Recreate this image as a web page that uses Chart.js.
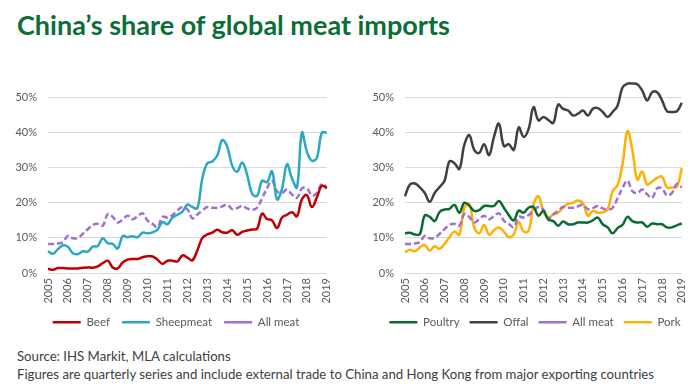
<!DOCTYPE html>
<html>
<head>
<meta charset="utf-8">
<script src="https://cdn.jsdelivr.net/npm/chart.js"></script>
<style>
  body { margin:0; background:#fff; width:700px; height:390px; overflow:hidden; position:relative; font-family: Lato, sans-serif; }
  #title { position:absolute; left:17px; top:8px; font-size:27px; font-weight:700; color:#0b6e37; white-space:nowrap; }
  .box { position:absolute; top:80px; height:258px; }
  #leftBox { left:0; width:345px; }
  #rightBox { left:350px; width:350px; }
  .note { position:absolute; left:17px; font-size:13.2px; color:#404040; white-space:nowrap; }
</style>
</head>
<body>
<div id="title">China’s share of global meat imports</div>
<div class="box" id="leftBox"><canvas id="left"></canvas></div>
<div class="box" id="rightBox"><canvas id="right"></canvas></div>
<div class="note" style="top:348px">Source: IHS Markit, MLA calculations</div>
<div class="note" style="top:366px">Figures are quarterly series and include external trade to China and Hong Kong from major exporting countries</div>
<script>
// quarterly series, Q1 2005 .. Q1 2019, % share
var years = ["2005","2006","2007","2008","2009","2010","2011","2012","2013","2014","2015","2016","2017","2018","2019"]
var quarters = []
for (let y = 0; y < years.length; y++) {
    for (let q = 1; q <= 4; q++) {
        if (y == years.length - 1 && q > 1) break
        quarters.push(years[y] + " Q" + q)
    }
}

var beef = [1.2,0.9,1.4,1.4,1.3,1.3,1.3,1.5,1.6,1.5,
    1.9,2.8,3.5,1.6,1.3,3.0,3.8,4.0,4.0,4.5,
    4.8,4.7,3.8,2.6,3.5,3.5,3.3,5.0,4.4,3.6,
    6.5,10.0,11.0,11.5,12.3,11.6,11.5,12.2,10.9,11.7,
    12.1,12.4,12.6,16.9,15.4,15.0,12.8,15.8,16.6,17.3,
    16.2,21.0,22.2,18.8,21.5,24.9,24.2]

var sheepmeat = [6.2,5.5,6.8,7.9,7.5,5.6,5.4,6.2,6.1,7.5,
    7.7,9.9,8.5,8.3,7.0,10.5,10.2,10.5,10.2,11.5,
    11.3,11.6,12.4,14.5,13.9,15.8,16.6,17.5,19.5,18.8,
    18.5,27.0,31.3,31.8,33.5,37.9,36.0,30.6,28.9,31.5,
    28.0,22.6,22.0,26.3,25.9,29.0,21.0,24.0,31.0,27.0,
    24.4,40.0,34.6,32.0,32.8,40.0,40.0]

var allMeat = [8.3,8.3,8.4,8.8,10.6,9.9,10.0,11.2,12.5,13.7,
    14.0,13.5,16.8,16.0,14.4,15.3,16.3,15.3,16.2,17.0,
    14.9,14.0,13.1,16.0,15.8,16.5,17.8,18.8,18.1,15.6,
    16.7,17.8,18.8,18.6,18.6,19.0,19.5,18.2,18.5,19.1,
    18.4,18.0,18.6,21.3,24.2,26.3,23.3,22.8,23.8,22.4,
    21.4,24.1,24.1,22.1,22.8,25.4,24.4]

var poultry = [11.3,11.5,11.0,11.1,16.4,16.0,14.8,17.4,18.1,18.3,
    19.4,17.2,20.0,19.2,17.7,17.9,19.1,19.1,19.1,20.5,
    18.6,16.5,15.0,17.8,17.2,18.6,18.8,16.3,17.7,15.2,
    14.8,13.5,14.7,13.9,13.9,14.4,14.4,14.4,15.0,15.8,
    13.9,13.0,11.3,12.8,13.7,16.0,14.8,14.4,14.4,13.2,
    14.1,13.9,13.9,13.0,13.0,13.6,14.1]

var offal = [21.9,25.2,25.5,24.4,22.8,20.3,22.8,24.5,26.3,31.8,
    31.3,29.7,36.5,39.3,35.1,34.2,36.7,33.6,38.8,42.6,
    36.2,36.7,35.1,41.5,38.8,41.0,47.3,43.5,44.5,43.6,
    42.8,48.0,46.8,46.3,44.9,45.4,46.3,44.9,46.8,47.0,
    45.9,44.5,45.9,47.7,52.9,54.0,54.0,53.8,52.0,49.2,
    51.5,51.5,49.2,46.1,45.9,46.1,48.5]

var pork = [5.9,6.6,6.2,7.3,8.0,6.4,7.6,6.9,8.3,10.2,
    11.8,10.9,18.6,19.7,13.0,11.3,13.7,10.9,12.2,13.0,
    11.8,10.2,11.0,14.5,11.8,12.0,19.5,21.9,17.5,15.8,
    16.7,17.2,18.8,19.7,20.0,20.7,19.9,16.3,17.7,17.2,
    17.3,18.1,23.3,25.0,31.0,40.4,35.0,26.6,28.9,25.2,
    26.1,27.1,27.5,24.4,24.4,24.6,29.9]

var textColor = '#595959'

// empurra a legenda um pouco para a direita
var moveLegend = {
    id: 'moveLegend',
    afterLayout: function (chart, args, opts) {
        chart.legend.left += opts.dx
        chart.legend.right += opts.dx
    }
}

function serie(label, data, color, dashed) {
    return {
        label: label,
        data: data,
        borderColor: color,
        backgroundColor: color,
        borderWidth: 2.5,
        borderDash: dashed ? [6, 3] : [],
        pointRadius: 0,
        tension: 0.4,
        clip: false
    }
}

function opcoes(axisWidth, padRight, legendPad, dx) {
    return {
        responsive: true,
        maintainAspectRatio: false,
        animation: false,
        layout: { padding: { top: 15, right: padRight, bottom: 0 } },
        scales: {
            x: {
                afterFit: function (s) { s.height = 43.5 - legendPad },
                grid: { display: false, drawTicks: false },
                border: { display: false },
                ticks: {
                    autoSkip: false, maxRotation: 90, minRotation: 90, padding: 5,
                    color: textColor, font: { family: 'Lato', size: 11 },
                    callback: function (v, i) { return i % 4 == 0 ? years[i / 4] : null }
                }
            },
            y: {
                min: 0, max: 50,
                afterFit: function (s) { s.width = axisWidth },
                grid: { color: '#d9d9d9', drawTicks: false },
                border: { display: false },
                ticks: {
                    stepSize: 10, padding: 11,
                    color: textColor, font: { family: 'Lato', size: 11 },
                    callback: function (v) { return v + '%' }
                }
            }
        },
        plugins: {
            legend: {
                position: 'bottom',
                labels: {
                    usePointStyle: true, pointStyle: 'line', pointStyleWidth: 28,
                    color: textColor, font: { family: 'Lato', size: 11.5 }, padding: legendPad
                }
            },
            moveLegend: { dx: dx },
            tooltip: { enabled: false }
        }
    }
}

new Chart(document.getElementById('left'), {
    type: 'line',
    data: {
        labels: quarters,
        datasets: [
            serie('Beef', beef, '#c00000'),
            serie('Sheepmeat', sheepmeat, '#2ba8c4'),
            serie('All meat', allMeat, '#9f6fd2', true)
        ]
    },
    options: opcoes(48, 13, 12, 10),
    plugins: [moveLegend]
});

new Chart(document.getElementById('right'), {
    type: 'line',
    data: {
        labels: quarters,
        datasets: [
            serie('Poultry', poultry, '#0a6b32'),
            serie('Offal', offal, '#404040'),
            serie('All meat', allMeat, '#9f6fd2', true),
            serie('Pork', pork, '#ffb000')
        ]
    },
    options: opcoes(55, 12, 10, 16),
    plugins: [moveLegend]
});
</script>
</body>
</html>
